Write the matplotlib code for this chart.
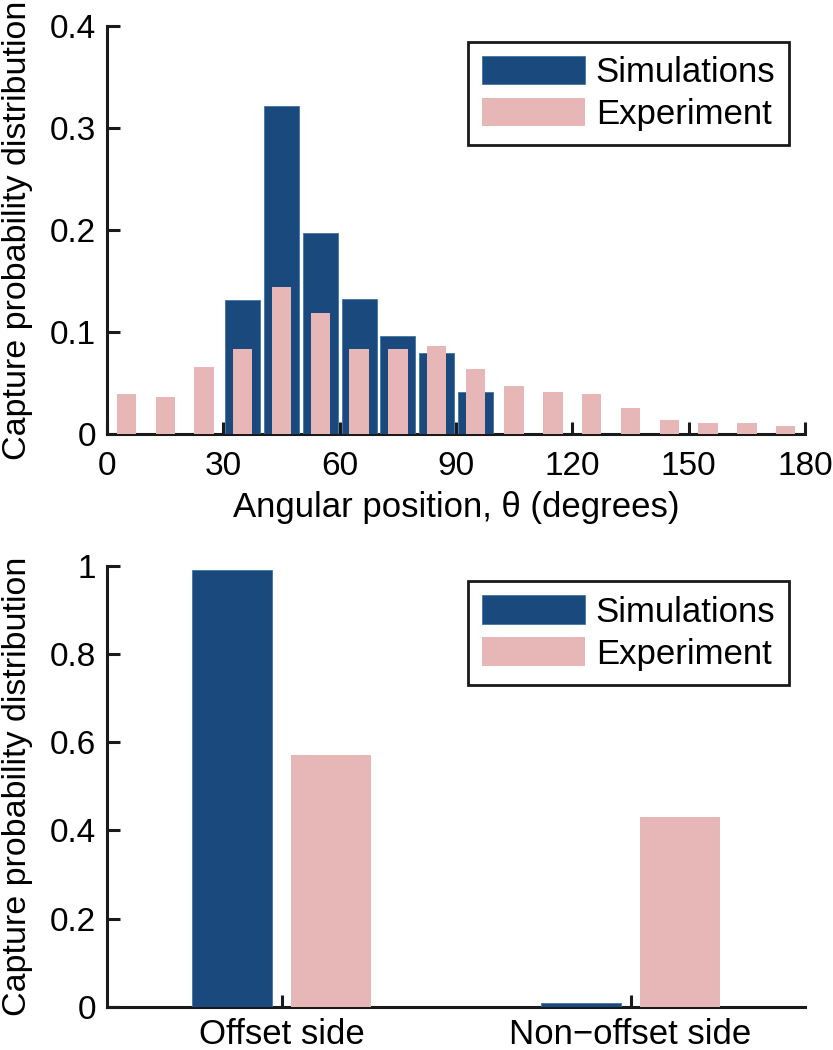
import matplotlib
matplotlib.use("Agg")
import matplotlib.pyplot as plt

plt.rcParams['font.family'] = ['Liberation Sans', 'DejaVu Sans']

# top panel data (angular position bins, degrees)
sim_angles = [35, 45, 55, 65, 75, 85, 95]
sim_prob = [0.131, 0.322, 0.197, 0.132, 0.096, 0.079, 0.041]

exp_angles = [5, 15, 25, 35, 45, 55, 65, 75, 85, 95,
              105, 115, 125, 135, 145, 155, 165, 175]
exp_prob = [0.039, 0.036, 0.066, 0.083, 0.144, 0.119, 0.083, 0.083, 0.086, 0.064,
            0.047, 0.041, 0.039, 0.025, 0.014, 0.011, 0.011, 0.008]

# bottom panel data
sides = ['Offset side', 'Non\u2212offset side']
sim_side = [0.99, 0.008]
exp_side = [0.57, 0.43]

blue = '#1a4a7d'
pink = '#e7b6b6'
fs = 24.5

fig = plt.figure(figsize=(8.33, 10.5), dpi=100)
ax1 = fig.add_axes([0.1285, 0.5867, 0.8379, 0.3885])
ax2 = fig.add_axes([0.1285, 0.0412, 0.8379, 0.42])

ax1.bar(sim_angles, sim_prob, width=9, color=blue, edgecolor='#4473a3',
        linewidth=0.6, label='Simulations', zorder=3)
ax1.bar(exp_angles, exp_prob, width=5, color=pink, label='Experiment', zorder=4)
ax1.set_xlim(0, 180)
ax1.set_ylim(0, 0.4)
ax1.set_xticks([0, 30, 60, 90, 120, 150, 180])
ax1.set_yticks([0, 0.1, 0.2, 0.3, 0.4])
ax1.set_yticklabels(['0', '0.1', '0.2', '0.3', '0.4'])
ax1.set_xlabel('Angular position, \u03b8 (degrees)', fontsize=25, labelpad=7)
ax1.set_ylabel('Capture probability distribution', fontsize=fs, labelpad=12)

x = [1, 2]
off = 0.143
w = 0.229
ax2.bar([i - off for i in x], sim_side, width=w, color=blue, edgecolor='#4473a3',
        linewidth=0.6, label='Simulations', zorder=3)
ax2.bar([i + off for i in x], exp_side, width=w, color=pink,
        label='Experiment', zorder=3)
ax2.set_xlim(0.5, 2.5)
ax2.set_ylim(0, 1)
ax2.set_xticks(x)
ax2.set_xticklabels(sides)
ax2.set_yticks([0, 0.2, 0.4, 0.6, 0.8, 1])
ax2.set_yticklabels(['0', '0.2', '0.4', '0.6', '0.8', '1'])
ax2.set_ylabel('Capture probability distribution', fontsize=fs, labelpad=12)

for ax in (ax1, ax2):
    for s in ('top', 'right'):
        ax.spines[s].set_visible(False)
    for s in ('left', 'bottom'):
        ax.spines[s].set_linewidth(2.2)
        ax.spines[s].set_color('#1a1a1a')
    ax.tick_params(direction='in', length=9, width=2.2, labelsize=24,
                   color='#1a1a1a', pad=8)
    leg = ax.legend(loc='upper right', fontsize=25, handlelength=2.95,
                    handleheight=0.9, borderaxespad=0.45, fancybox=False,
                    framealpha=1, edgecolor='#1a1a1a', labelspacing=0.25,
                    handletextpad=0.32, borderpad=0.4)
    leg.get_frame().set_linewidth(2.0)

ax1.tick_params(axis='x', pad=12)
ax2.tick_params(axis='x', labelsize=25, pad=8)

fig.savefig('out.png', dpi=100)
